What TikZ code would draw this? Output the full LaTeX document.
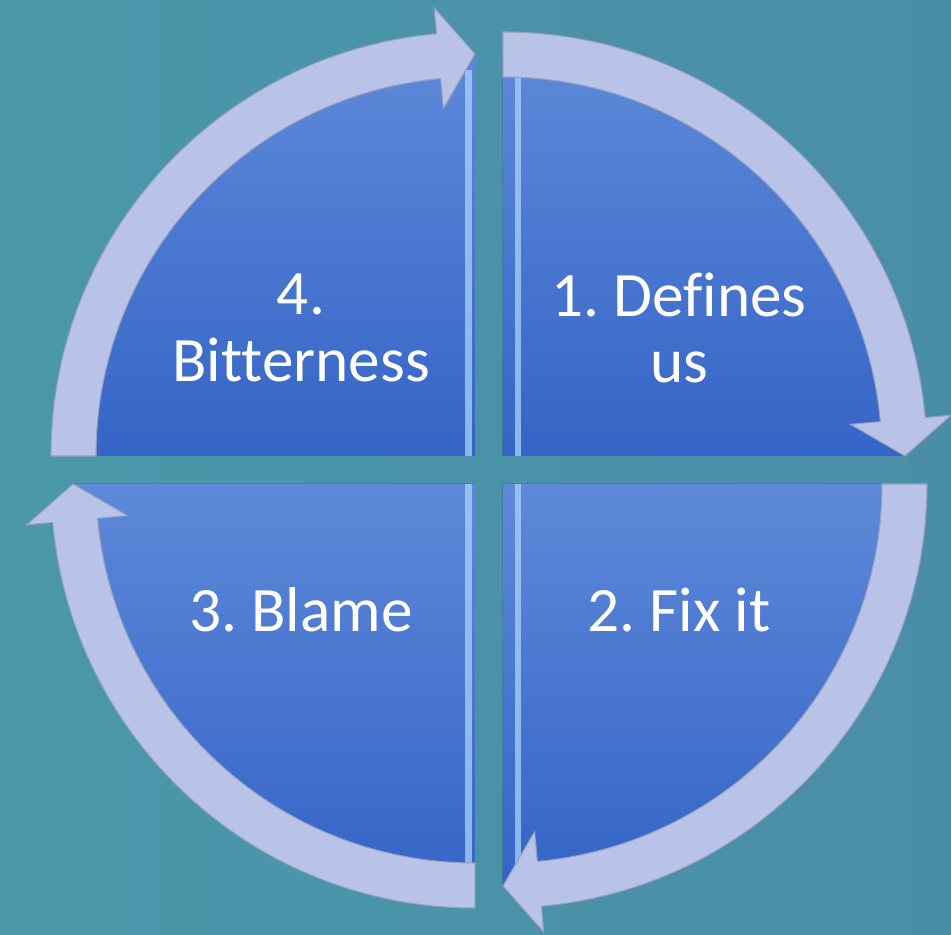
\documentclass[tikz,border=0pt]{standalone}
\usepackage{fontspec}
\setmainfont{Carlito}[Ligatures={NoCommon}]
\frenchspacing
\definecolor{bgleft}{HTML}{4A98AA}
\definecolor{bgright}{HTML}{4A8DA7}
\definecolor{wedgetop}{HTML}{5E89D9}
\definecolor{wedgebot}{HTML}{3464C6}
\definecolor{ringfill}{HTML}{B8C3E7}
\definecolor{ringedge}{HTML}{98A0C0}
\definecolor{glow}{HTML}{A9D2FA}

\tikzset{
  wedge/.style={top color=wedgetop, bottom color=wedgebot},
  edgeglow/.style={fill=glow, opacity=0.75},
  ringarrow/.style={fill=ringfill, draw=ringedge, line width=0.6pt},
  wedgetext/.style={text=white, align=center, font=\fontsize{36}{38}\selectfont}
}

% one quarter of the ring, drawn for the top right quarter
\newcommand\ringpiece{%
  \filldraw[ringarrow] (90:424) arc[start angle=90, end angle=5.2, radius=424]
    -- (5.2:450) -- (0:402) -- (5.2:349) -- (5.2:379)
    arc[start angle=5.2, end angle=90, radius=379] -- cycle;}

\begin{document}
\begin{tikzpicture}[x=0.02cm, y=0.02cm]
      \fill[left color=bgleft, right color=bgright] (-489,-465) rectangle (462,470);
      \useasboundingbox (-489,-465) rectangle (462,470);

      % the four pie pieces
      \fill[wedge] (14,14) -- ++(90:402) arc[start angle=90, end angle=0, radius=402] -- cycle;
      \fill[wedge] (14,-14) -- ++(0:402) arc[start angle=0, end angle=-90, radius=402] -- cycle;
      \fill[wedge] (-14,-14) -- ++(-90:402) arc[start angle=-90, end angle=-180, radius=402] -- cycle;
      \fill[wedge] (-14,14) -- ++(180:402) arc[start angle=180, end angle=90, radius=402] -- cycle;
      \fill[edgeglow] (26,14) rectangle (32,400);
      \fill[edgeglow] (26,-14) rectangle (32,-400);
      \fill[edgeglow] (-24,14) rectangle (-17,400);
      \fill[edgeglow] (-24,-14) rectangle (-17,-400);

      % the ring of arrows
      \begin{scope}[shift={(14,14)}]\ringpiece\end{scope}
      \begin{scope}[shift={(14,-14)}, rotate=-90]\ringpiece\end{scope}
      \begin{scope}[shift={(-14,-14)}, rotate=180]\ringpiece\end{scope}
      \begin{scope}[shift={(-14,14)}, rotate=90]\ringpiece\end{scope}

      \node[wedgetext] (defines) at (190,142) {1. Defines\\us};
      \node[wedgetext] (fixit) at (190,-140) {2. Fix it};
      \node[wedgetext] (blame) at (-188,-140) {3. Blame};
      \node[wedgetext] (bitter) at (-188,142) {4.\\Bitterness};
    \end{tikzpicture}
\end{document}
